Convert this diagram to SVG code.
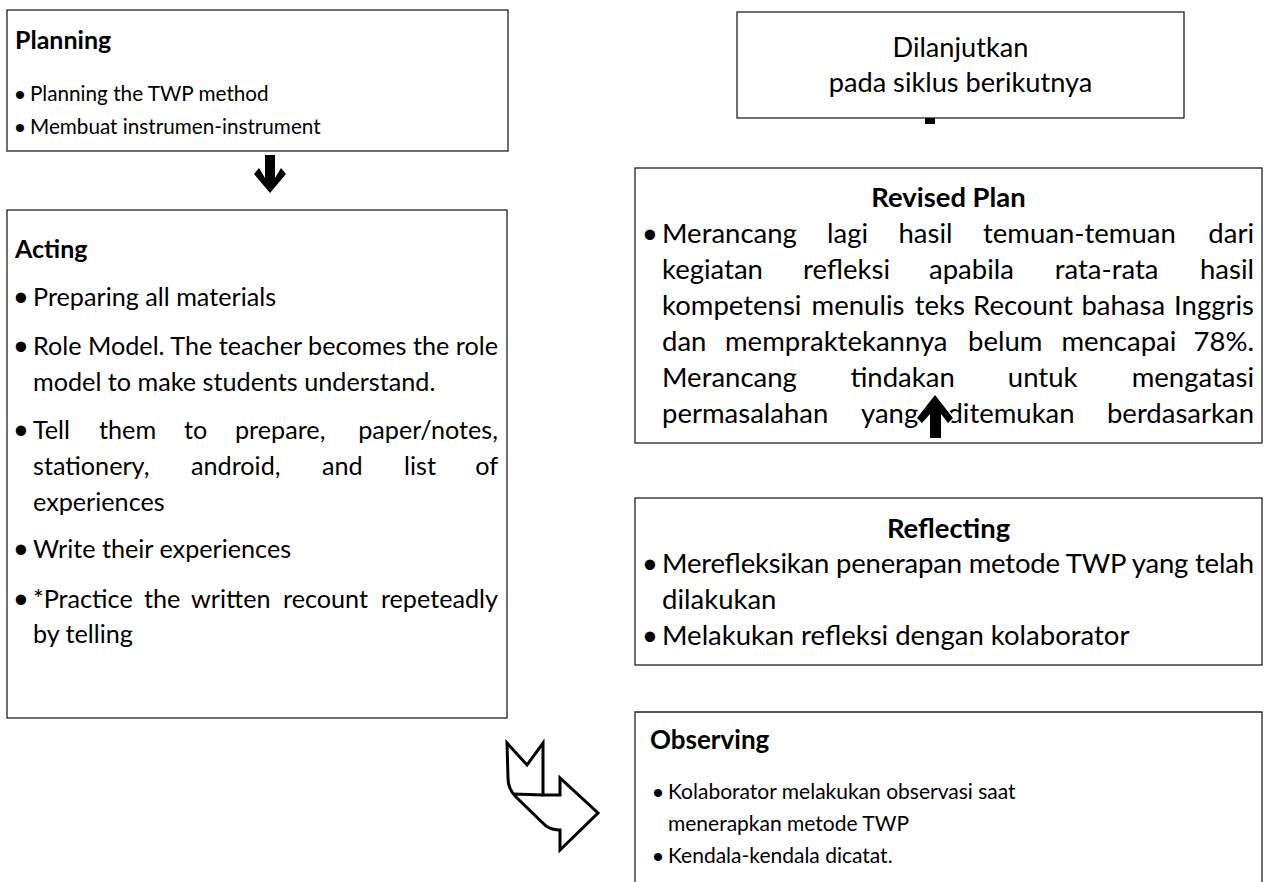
<svg xmlns="http://www.w3.org/2000/svg" width="1265" height="882" viewBox="0 0 1265 882">
<style>
.box{fill:#fff;stroke:#222;stroke-width:1.3}
.t{font-family:Lato,"Liberation Sans",sans-serif;fill:#000}
.r{font-size:27.5px}
.ac{font-size:25.2px}
.pl{font-size:20.7px}
.ob{font-size:21px}
.dl{font-size:27.2px}
.h{font-weight:bold}
.bu{font-family:"Liberation Sans",Arial,sans-serif;text-anchor:middle;fill:#000}
.bl{font-size:38px}
.bs{font-size:30px}
.m{text-anchor:middle}
.e{text-anchor:end}
.arr{fill:#000}
</style>
<rect width="1265" height="882" fill="#fff"/>
<g id="planning">
<rect class="box" x="7" y="10" width="501" height="141"/>
<text class="t h" style="font-size:25px" x="15" y="49">Planning</text>
<text class="bu bs" x="20" y="105">•</text><text class="t pl" x="30" y="101">Planning the TWP method</text>
<text class="bu bs" x="20" y="138">•</text><text class="t pl" x="30" y="134">Membuat instrumen-instrument</text>
</g>
<g id="acting">
<rect class="box" x="7" y="210" width="500" height="508"/>
<text class="t h" style="font-size:25px" x="15" y="258">Acting</text>
<text class="bu bl" x="21" y="311">•</text><text class="t ac" x="33" y="306">Preparing all materials</text>
<text class="bu bl" x="21" y="360">•</text><text class="t ac" x="33" y="355" textLength="465" lengthAdjust="spacing">Role Model. The teacher becomes the role</text>
<text class="t ac" x="33" y="391">model to make students understand.</text>
<text class="bu bl" x="21" y="444">•</text>
<text class="t ac" y="439"><tspan x="33">Tell</tspan><tspan x="99">them</tspan><tspan x="184">to</tspan><tspan x="235">prepare,</tspan></text>
<text class="t ac e" x="498" y="439">paper/notes,</text>
<text class="t ac" y="475"><tspan x="33">stationery,</tspan><tspan x="191">android,</tspan><tspan x="322">and</tspan><tspan x="404">list</tspan></text>
<text class="t ac e" x="498" y="475">of</text>
<text class="t ac" x="33" y="511">experiences</text>
<text class="bu bl" x="21" y="563">•</text><text class="t ac" x="33" y="558">Write their experiences</text>
<text class="bu bl" x="21" y="613">•</text>
<text class="t ac" y="608"><tspan x="33">*Practice</tspan><tspan x="144">the</tspan><tspan x="191">written</tspan><tspan x="283">recount</tspan></text>
<text class="t ac e" x="498" y="608">repeteadly</text>
<text class="t ac" x="33" y="643">by telling</text>
</g>
<g id="dilanjutkan">
<rect class="box" x="737" y="12" width="447" height="106"/>
<text class="t dl m" x="960.5" y="57">Dilanjutkan</text>
<text class="t dl m" x="960.5" y="92">pada siklus berikutnya</text>
</g>
<g id="revised-plan">
<rect class="box" x="635" y="168" width="627" height="275"/>
<text class="t h m" style="font-size:27.4px" x="948.5" y="207">Revised Plan</text>
<text class="bu bl" x="650" y="248">•</text>
<text class="t r" y="243"><tspan x="662">Merancang</tspan><tspan x="827">lagi</tspan><tspan x="898.5">hasil</tspan><tspan x="983">temuan-temuan</tspan></text>
<text class="t r e" x="1254" y="243">dari</text>
<text class="t r" y="279"><tspan x="662">kegiatan</tspan><tspan x="803">refleksi</tspan><tspan x="929">apabila</tspan><tspan x="1054.7">rata-rata</tspan></text>
<text class="t r e" x="1254" y="279">hasil</text>
<text class="t r" y="315"><tspan x="662">kompetensi</tspan><tspan x="811.6">menulis</tspan><tspan x="914.7">teks</tspan><tspan x="973.1">Recount</tspan><tspan x="1081.4">bahasa</tspan></text>
<text class="t r e" x="1254" y="315">Inggris</text>
<text class="t r" y="351"><tspan x="662">dan</tspan><tspan x="725">mempraktekannya</tspan><tspan x="968">belum</tspan><tspan x="1061.4">mencapai</tspan></text>
<text class="t r e" x="1254" y="351">78%.</text>
<text class="t r" y="387"><tspan x="662">Merancang</tspan><tspan x="850.4">tindakan</tspan><tspan x="1007.8">untuk</tspan></text>
<text class="t r e" x="1254" y="387">mengatasi</text>
<text class="t r" y="423"><tspan x="662">permasalahan</tspan><tspan x="861">yang</tspan><tspan x="947.4">ditemukan</tspan></text>
<text class="t r e" x="1254" y="423">berdasarkan</text>
</g>
<g id="reflecting">
<rect class="box" x="635" y="498" width="627" height="167"/>
<text class="t h m" style="font-size:27.4px" x="948.5" y="538">Reflecting</text>
<text class="bu bl" x="650" y="578">•</text><text class="t r" x="662" y="573" textLength="592" lengthAdjust="spacing">Merefleksikan penerapan metode TWP yang telah</text>
<text class="t r" x="662" y="609">dilakukan</text>
<text class="bu bl" x="650" y="650">•</text><text class="t r" x="662" y="645">Melakukan refleksi dengan kolaborator</text>
</g>
<g id="observing">
<path class="box" fill="none" d="M635,882 V712 H1262 V882"/>
<text class="t h" style="font-size:26px" x="650" y="749">Observing</text>
<text class="bu bs" x="658" y="803">•</text><text class="t ob" x="668" y="799">Kolaborator melakukan observasi saat</text>
<text class="t ob" x="668" y="831">menerapkan metode TWP</text>
<text class="bu bs" x="658" y="867">•</text><text class="t ob" x="668" y="863">Kendala-kendala dicatat.</text>
</g>
<g id="connectors">
<path class="arr" d="M265,155 H275 V178 L281,168 L286,174 L270,193 L254,174 L259,168 L265,178 Z"/>
<rect class="arr" x="925" y="118" width="10" height="6"/>
<path class="arr" stroke="#fff" stroke-width="3" paint-order="stroke" d="M930,438 V414 L922,423 L917,418 L935,395 L953,418 L948,423 L941,414 V438 Z"/>
<path fill="#fff" stroke="#000" stroke-width="3" stroke-linejoin="miter" d="M507,743 L527,765 L543,743 L543,795 L560,795 L560,778 L598,813 L560,850 L560,830 Q552,830 546,826 L516,797 Q508,789 508,778 Z"/>
<path fill="none" stroke="#000" stroke-width="3" d="M513,794 L543,795"/>
</g>
</svg>
